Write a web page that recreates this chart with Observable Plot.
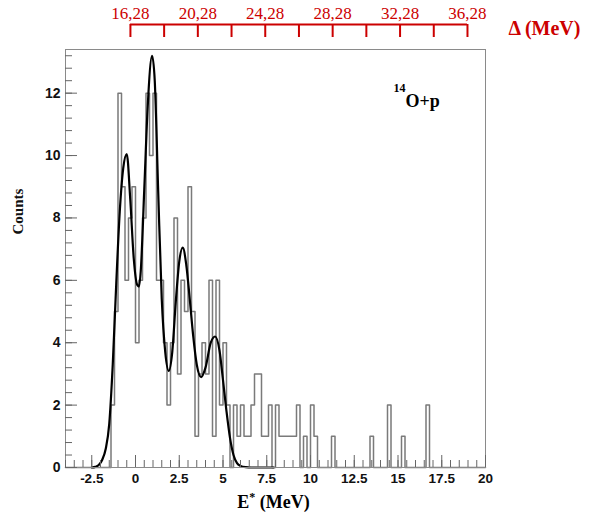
<!DOCTYPE html>
<html><head><meta charset="utf-8">
<script src="https://cdn.jsdelivr.net/npm/d3@7"></script>
<script src="https://cdn.jsdelivr.net/npm/@observablehq/plot@0.6"></script>
<style>
body{margin:0;background:#fff;}
#chart{width:590px;}
#chart svg{display:block;overflow:visible;}
</style>
</head><body><div id="chart"></div>
<script>
// ---- histogram: 0.2 MeV bins from -4 to 20 MeV ----
const binStart = -4;
const binWidth = 0.2;
const counts = [
  0,0,0,0,0,0,0,0,0,0,0,0,0,      // -4.0 .. -1.6
  2,5,12,9,6,8,9,                 // -1.4 .. -0.2
  4,6,8,12,10,12,6,6,4,2,         // 0.0 .. 1.8
  4,8,3,6,5,9,5,1,3,4,            // 2.0 .. 3.8
  3,6,1,6,2,4,2,0,2,1,            // 4.0 .. 5.8
  2,1,1,2,3,3,1,1,2,0,            // 6.0 .. 7.8
  2,1,1,1,1,1,2,0,1,0,            // 8.0 .. 9.8
  2,1,0,0,0,0,1,0,0,0,            // 10.0 .. 11.8
  0,0,0,0,0,0,0,1,0,0,            // 12.0 .. 13.8
  0,0,2,0,0,0,1,0,0,0,            // 14.0 .. 15.8
  0,0,0,2,0,0,0,0,0,0,            // 16.0 .. 17.8
  0,0,0,0,0,0,0,0,0,0             // 18.0 .. 19.8
];

// ---- fitted curve ----
const fitE = [-2.5,-2.3,-2.1,-1.9,-1.7,-1.5,-1.3,-1.1,-0.9,-0.7,-0.5,-0.3,-0.1,0.1,0.2,0.3,0.5,0.7,0.95,1.1,1.3,1.5,1.7,1.9,2.1,2.3,2.5,2.7,2.9,3.1,3.3,3.5,3.75,4.0,4.3,4.55,4.8,5.0,5.2,5.4,5.6,5.8,6.0,6.3,6.6,7.9];
const fitCounts = [0,0.02,0.08,0.25,0.6,1.4,3.3,5.9,8.2,9.6,10.05,8.6,6.7,5.85,5.8,6.3,8.9,11.6,13.2,12.4,8.8,5.4,3.7,3.1,3.7,5.3,6.6,7.05,6.5,5.4,4.2,3.3,2.9,3.2,4.0,4.2,3.75,2.8,1.8,0.95,0.4,0.14,0.05,0.01,0,0];

// ---- axes ----
const xDomain = [-4, 20];
const yDomain = [0, 13.4];
const xMajorTicks = [-2.5,0,2.5,5,7.5,10,12.5,15,17.5,20];
const xMinorTicks = d3.range(-4, 20.001, 0.5);
const yMajorTicks = [0,2,4,6,8,10,12];
const yMinorTicks = d3.range(0, 13.4, 0.4);

// ---- top (red) Δ axis ----
const deltaTicks = [16.28,18.28,20.28,22.28,24.28,26.28,28.28,30.28,32.28,34.28,36.28];
const deltaLabels = [16.28,20.28,24.28,28.28,32.28,36.28];
const deltaE0 = -0.29;      // E* position of Δ = 16.28
const deltaSlope = 0.963;   // E* units per Δ unit as drawn
const deltaToE = d => deltaE0 + (d - deltaTicks[0]) * deltaSlope;

const xTitle = "E* (MeV)";
const yTitle = "Counts";
const reaction = "14O+p";
const deltaTitle = "Δ (MeV)";

const red = "#cc0000";
const serif = "Liberation Serif, Times New Roman, serif";
const sans = "Liberation Sans, Arial, Helvetica, sans-serif";

const histPoints = counts.map((c, i) => ({x: binStart + i * binWidth, y: c}))
  .concat([{x: binStart + counts.length * binWidth, y: counts[counts.length - 1]}]);
const fitPoints = fitE.map((e, i) => ({x: e, y: fitCounts[i]}));

const topPlot = Plot.plot({
  width: 590, height: 45,
  marginTop: 24, marginBottom: 8, marginLeft: 65, marginRight: 105,
  x: {domain: xDomain, axis: null},
  y: {domain: [0, 1], axis: null},
  marks: [
    Plot.ruleY([1], {x1: () => deltaToE(deltaTicks[0]), x2: () => deltaToE(deltaTicks[deltaTicks.length - 1]), stroke: red, strokeWidth: 2}),
    Plot.tickX(deltaTicks, {x: deltaToE, stroke: red, strokeWidth: 2}),
    Plot.text(deltaLabels, {x: deltaToE, frameAnchor: "top", lineAnchor: "bottom", dy: -6, text: d => d.toFixed(2).replace(".", ","), fill: red, fontSize: 17, fontFamily: serif}),
    Plot.text([deltaTitle], {frameAnchor: "top-right", lineAnchor: "middle", dx: 23, dy: 4, textAnchor: "start", fill: red, fontSize: 20, fontWeight: "bold", fontFamily: serif})
  ]
});

const mainPlot = Plot.plot({
  width: 590, height: 470,
  marginTop: 4, marginBottom: 48, marginLeft: 65, marginRight: 105,
  x: {domain: xDomain, label: null},
  y: {domain: yDomain, label: null},
  style: {background: "white"},
  marks: [
    Plot.line(histPoints, {x: "x", y: "y", curve: "step-after", stroke: "#7a7a7a", strokeWidth: 1.5}),
    Plot.line(fitPoints, {x: "x", y: "y", curve: "monotone-x", stroke: "#000", strokeWidth: 2.2}),
    Plot.frame({stroke: "#8a8a8a", strokeWidth: 1}),
    Plot.axisY(yMinorTicks, {anchor: "left", tickSize: -7, text: null, stroke: "#666", label: null}),
    Plot.axisY(yMajorTicks, {anchor: "left", tickSize: -12, tickPadding: 17, stroke: "#666", label: null,
      tickFormat: d => String(d), fontSize: 14, fontWeight: "bold", fontFamily: sans, fill: "#111"}),
    Plot.axisX(xMinorTicks, {anchor: "bottom", tickSize: -7, text: null, stroke: "#666", label: null}),
    Plot.axisX(xMajorTicks, {anchor: "bottom", tickSize: -12, tickPadding: 18, stroke: "#666", label: null,
      tickFormat: d => String(d), fontSize: 13.5, fontWeight: "bold", fontFamily: sans, fill: "#111"}),
    Plot.text([xTitle], {frameAnchor: "bottom", lineAnchor: "bottom", dx: -2, dy: 40, fontSize: 18, fontWeight: "bold", fontFamily: serif, fill: "#000"}),
    Plot.text([yTitle], {frameAnchor: "left", lineAnchor: "middle", dx: -47, dy: -24, rotate: -90, fontSize: 15, fontWeight: "bold", fontFamily: serif, fill: "#111"}),
    Plot.text([reaction], {frameAnchor: "top-right", lineAnchor: "bottom", dx: -92, dy: 57, textAnchor: "start", fontSize: 18, fontWeight: "bold", fontFamily: serif, fill: "#000"})
  ]
});

// rich text: superscripts
d3.select(mainPlot).selectAll("text").each(function() {
  const t = d3.select(this);
  if (this.textContent === xTitle) {
    t.text(null);
    t.append("tspan").text("E");
    t.append("tspan").attr("dy", "-7").attr("font-size", "12").text("*");
    t.append("tspan").attr("dy", "7").text(" (MeV)");
  } else if (this.textContent === reaction) {
    t.text(null);
    t.append("tspan").attr("dy", "-15").attr("font-size", "12").text("14");
    t.append("tspan").attr("dy", "15").text("O+p");
  }
});

const chart = document.getElementById("chart");
chart.appendChild(topPlot);
chart.appendChild(mainPlot);
</script>
</body></html>
